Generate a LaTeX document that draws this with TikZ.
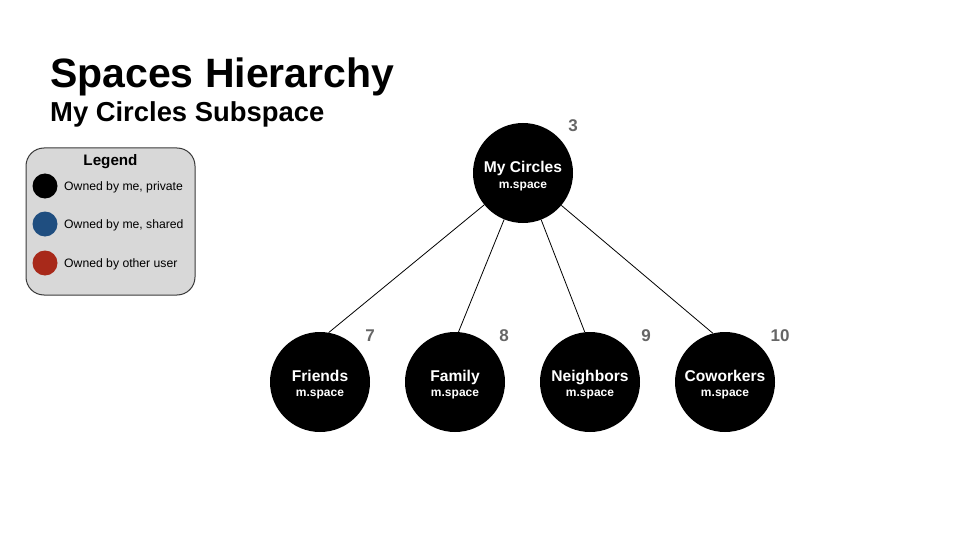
\documentclass[tikz,border=0pt]{standalone}
\usepackage{fontspec}
\setmainfont{Liberation Sans}
\definecolor{numgray}{HTML}{666666}
\definecolor{legfill}{HTML}{D8D8D8}
\definecolor{legdraw}{HTML}{3A3A3A}
\definecolor{ownblue}{HTML}{1F4E80}
\definecolor{ownred}{HTML}{A8291A}
\begin{document}
\begin{tikzpicture}[x=1pt,y=-1pt,
  space/.style={circle,fill=black,minimum size=100pt,inner sep=0pt},
  nm/.style={anchor=base,inner sep=0pt,text=white,font=\fontsize{15.6}{17}\selectfont\bfseries},
  sub/.style={anchor=base,inner sep=0pt,text=white,font=\fontsize{12}{14}\selectfont\bfseries},
  num/.style={text=numgray,font=\fontsize{17}{19}\selectfont\bfseries,inner sep=0pt},
  legdot/.style={circle,minimum size=25pt,inner sep=0pt},
  legtext/.style={anchor=base west,font=\fontsize{12.2}{14}\selectfont,inner sep=0pt},
  link/.style={draw=black,line width=0.8pt}]
\useasboundingbox (0,0) rectangle (960,540);
\fill[white] (0,0) rectangle (960,540);
% titles
\node[anchor=base west,inner sep=0pt,font=\fontsize{41}{46}\selectfont\bfseries] (title) at (50,88) {Spaces Hierarchy};
\node[anchor=base west,inner sep=0pt,font=\fontsize{27.4}{31}\selectfont\bfseries] (subtitle) at (50,122) {My Circles Subspace};
% legend
\node[draw=legdraw,fill=legfill,line width=1pt,rounded corners=18pt,minimum width=169pt,minimum height=147pt,inner sep=0pt] (legend) at (110.5,221.5) {};
\node[anchor=base,inner sep=0pt,font=\fontsize{15.2}{17}\selectfont\bfseries] (legtitle) at (110.5,166) {Legend};
\node[legdot,fill=black] (d1) at (45,186) {};
\node[legdot,fill=ownblue] (d2) at (45,224) {};
\node[legdot,fill=ownred] (d3) at (45,263) {};
\node[legtext] (t1) at (64,190.5) {Owned by me, private};
\node[legtext] (t2) at (64,228.5) {Owned by me, shared};
\node[legtext] (t3) at (64,267.5) {Owned by other user};
% spaces
\node[space] (root) at (523,173) {};
\node[space] (friends) at (320,382) {};
\node[space] (family) at (455,382) {};
\node[space] (neighbors) at (590,382) {};
\node[space] (coworkers) at (725,382) {};
\node[nm] (l0) at (523,173) {My Circles};
\node[sub] (s0) at (523,188) {m.space};
\node[nm] (l1) at (320,381) {Friends};
\node[sub] (s1) at (320,396) {m.space};
\node[nm] (l2) at (455,381) {Family};
\node[sub] (s2) at (455,396) {m.space};
\node[nm] (l3) at (590,381) {Neighbors};
\node[sub] (s3) at (590,396) {m.space};
\node[nm] (l4) at (725,381) {Coworkers};
\node[sub] (s4) at (725,396) {m.space};
% numbers
\node[num] (n3) at (573,126) {3};
\node[num] (n7) at (370,336) {7};
\node[num] (n8) at (504,336) {8};
\node[num] (n9) at (646,336) {9};
\node[num] (n10) at (780,336) {10};
% links
\draw[link] (root) -- (friends.80);
\draw[link] (root) -- (family.86);
\draw[link] (root) -- (neighbors.96);
\draw[link] (root) -- (coworkers.104);
\end{tikzpicture}
\end{document}
